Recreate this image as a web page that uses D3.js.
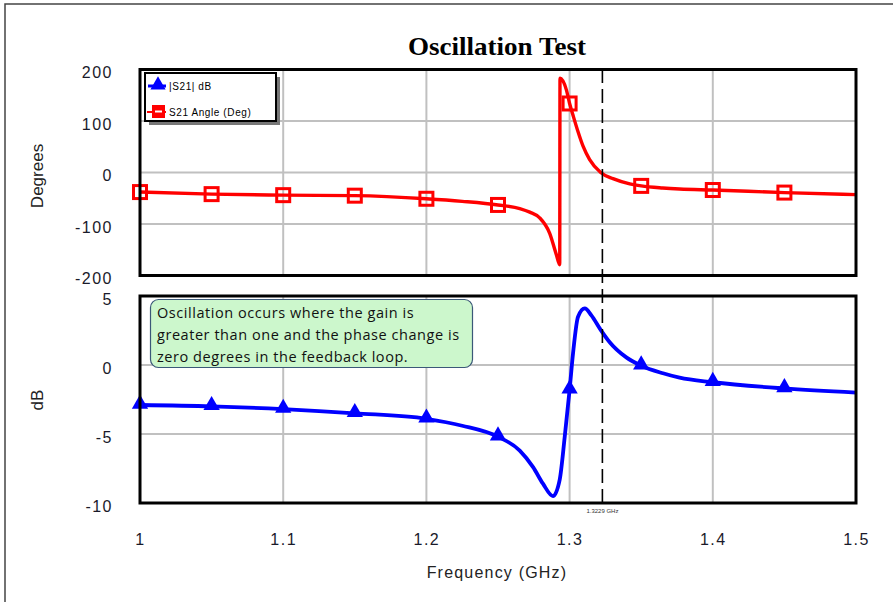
<!DOCTYPE html>
<html>
<head>
<meta charset="utf-8">
<script src="https://cdn.jsdelivr.net/npm/d3@7"></script>
<style>
  html, body { margin: 0; padding: 0; background: #fff; }
  svg { display: block; }
</style>
</head>
<body>
<svg id="chart" width="893" height="602"></svg>
<script>
// ---------------- DATA ----------------
const title = "Oscillation Test";
const xTicks = [1, 1.1, 1.2, 1.3, 1.4, 1.5];
const xTickLabels = ["1", "1.1", "1.2", "1.3", "1.4", "1.5"];
const degTicks = [200, 100, 0, -100, -200];
const dbTicks = [5, 0, -5, -10];
const markerFreqs = [1.00, 1.05, 1.10, 1.15, 1.20, 1.25, 1.30, 1.35, 1.40, 1.45];

const angleFreq = [1.00, 1.05, 1.10, 1.15, 1.20, 1.225, 1.25, 1.2652, 1.2722, 1.2791, 1.2861, 1.2908, 1.2931,
  1.2933, 1.2978, 1.30, 1.3024, 1.3059, 1.3094, 1.3140, 1.3217, 1.3303, 1.3420, 1.35, 1.3650, 1.3768, 1.40, 1.45, 1.50];
const angleDeg = [-38, -42, -44, -45, -51, -56, -63, -70, -77, -88, -118, -160, -179,
  183, 160, 134, 111, 79, 51, 25, 0, -12, -22, -26, -30, -32, -34, -39, -43];

const gainFreq = [1.00, 1.05, 1.10, 1.15, 1.20, 1.225, 1.25, 1.2652, 1.2745, 1.2814, 1.2884, 1.2931, 1.2966,
  1.30, 1.3024, 1.3059, 1.3106, 1.3152, 1.3217, 1.3280, 1.3396, 1.35, 1.3652, 1.3768, 1.40, 1.45, 1.50];
const gainDb = [-2.9, -3.0, -3.2, -3.5, -3.9, -4.4, -5.2, -6.2, -7.4, -8.6, -9.5, -8.3, -5.2,
  -1.8, 0.85, 3.5, 4.1, 3.6, 2.55, 1.65, 0.55, -0.05, -0.6, -0.92, -1.25, -1.7, -2.0];

const markerFreq = 1.3229;
const markerLabel = "1.3229 GHz";
const seriesNames = ["|S21| dB", "S21 Angle (Deg)"];
const noteLines = [
  "Oscillation occurs where the gain is",
  "greater than one and the phase change is",
  "zero degrees in the feedback loop."
];

// ---------------- DRAW ----------------
const svg = d3.select("#chart");
const red = "#ff0000", blue = "#0000ff";
const sans = "Liberation Sans, Arial, sans-serif";

const x = d3.scaleLinear().domain([1, 1.5]).range([140, 856]);
const yDeg = d3.scaleLinear().domain([-200, 200]).range([275.5, 69.5]);
const yDb = d3.scaleLinear().domain([-10, 5]).range([503, 296]);

// outer frame
svg.append("rect").attr("x", 5).attr("y", 4).attr("width", 900).attr("height", 610)
  .attr("fill", "none").attr("stroke", "#444").attr("stroke-width", 1.5);

// title
svg.append("text").attr("x", 497).attr("y", 55).attr("text-anchor", "middle")
  .attr("font-family", "Liberation Serif, Times New Roman, serif").attr("font-weight", "bold")
  .attr("font-size", 25).attr("textLength", 178).attr("lengthAdjust", "spacingAndGlyphs")
  .attr("fill", "#000").text(title);

function panel(y, ticks) {
  const g = svg.append("g");
  const [y0, y1] = y.range();
  g.selectAll(".vg").data(xTicks.slice(1, -1)).join("line")
    .attr("x1", d => x(d)).attr("x2", d => x(d)).attr("y1", y1).attr("y2", y0)
    .attr("stroke", "#c0c0c0").attr("stroke-width", 2);
  g.selectAll(".hg").data(ticks.slice(1, -1)).join("line")
    .attr("x1", x.range()[0]).attr("x2", x.range()[1]).attr("y1", d => y(d)).attr("y2", d => y(d))
    .attr("stroke", "#c0c0c0").attr("stroke-width", 2);
  const ax = d3.axisLeft(y).tickValues(ticks).tickSize(0).tickPadding(27).tickFormat(d => String(d));
  const ga = svg.append("g").attr("transform", `translate(${x.range()[0]},3)`).call(ax);
  ga.select(".domain").remove();
  ga.selectAll("text").attr("font-family", sans)
    .attr("font-size", 16).attr("letter-spacing", 1.5).attr("fill", "#1a1a2a");
  return g;
}
panel(yDeg, degTicks);
panel(yDb, dbTicks);

// x axis labels
const xa = d3.axisBottom(x).tickValues(xTicks).tickSize(0).tickPadding(31)
  .tickFormat((d, i) => xTickLabels[i]);
const gx = svg.append("g").attr("transform", "translate(0,503)").call(xa);
gx.select(".domain").remove();
gx.selectAll("text").attr("font-family", sans)
  .attr("font-size", 16).attr("letter-spacing", 1.5).attr("fill", "#1a1a2a");

// axis titles
svg.append("text").attr("x", 497).attr("y", 578).attr("text-anchor", "middle")
  .attr("font-family", sans).attr("font-size", 16)
  .attr("letter-spacing", 1.2).attr("fill", "#222").text("Frequency (GHz)");
svg.append("text").attr("transform", "translate(43,176) rotate(-90)").attr("text-anchor", "middle")
  .attr("font-family", sans).attr("font-size", 17).attr("fill", "#222").text("Degrees");
svg.append("text").attr("transform", "translate(43,400) rotate(-90)").attr("text-anchor", "middle")
  .attr("font-family", sans).attr("font-size", 17).attr("fill", "#222").text("dB");

// series
const angleData = angleFreq.map((f, i) => ({ f, v: angleDeg[i] }));
const gainData = gainFreq.map((f, i) => ({ f, v: gainDb[i] }));

svg.append("path").datum(angleData)
  .attr("d", d3.line().x(d => x(d.f)).y(d => yDeg(d.v)).curve(d3.curveMonotoneX))
  .attr("fill", "none").attr("stroke", red).attr("stroke-width", 3.4).attr("stroke-linejoin", "round");
svg.append("path").datum(gainData)
  .attr("d", d3.line().x(d => x(d.f)).y(d => yDb(d.v)).curve(d3.curveMonotoneX))
  .attr("fill", "none").attr("stroke", blue).attr("stroke-width", 3.8).attr("stroke-linejoin", "round");

// markers
const isMarker = d => markerFreqs.some(m => Math.abs(m - d.f) < 1e-6);
svg.selectAll(".sq").data(angleData.filter(isMarker)).join("rect")
  .attr("x", d => x(d.f) - 6.5).attr("y", d => yDeg(d.v) - 6.5).attr("width", 13).attr("height", 13)
  .attr("fill", "none").attr("stroke", red).attr("stroke-width", 3);
svg.selectAll(".tri").data(gainData.filter(isMarker)).join("path")
  .attr("transform", d => `translate(${x(d.f)},${yDb(d.v) - 1})`)
  .attr("d", d3.symbol(d3.symbolTriangle, 115))
  .attr("fill", blue);

// dashed marker line
svg.append("line").attr("x1", x(markerFreq)).attr("x2", x(markerFreq)).attr("y1", 69).attr("y2", 503)
  .attr("stroke", "#000").attr("stroke-width", 1.6).attr("stroke-dasharray", "14,6");
svg.append("text").attr("x", x(markerFreq)).attr("y", 513).attr("text-anchor", "middle")
  .attr("font-family", sans).attr("font-size", 6).attr("fill", "#333").text(markerLabel);

// panel borders
[yDeg, yDb].forEach(y => {
  svg.append("rect").attr("x", 140).attr("y", y.range()[1])
    .attr("width", 716).attr("height", y.range()[0] - y.range()[1])
    .attr("fill", "none").attr("stroke", "#000").attr("stroke-width", 3);
});

// legend
const lg = svg.append("g");
lg.append("rect").attr("x", 149).attr("y", 77).attr("width", 131).attr("height", 48).attr("fill", "#777");
lg.append("rect").attr("x", 145).attr("y", 73).attr("width", 131).attr("height", 48)
  .attr("fill", "#fff").attr("stroke", "#000").attr("stroke-width", 2);
lg.append("line").attr("x1", 148).attr("x2", 166).attr("y1", 86).attr("y2", 86).attr("stroke", blue).attr("stroke-width", 3);
lg.append("path").attr("transform", "translate(158,85)").attr("d", d3.symbol(d3.symbolTriangle, 100)).attr("fill", blue);
lg.append("line").attr("x1", 147).attr("x2", 166).attr("y1", 112).attr("y2", 112).attr("stroke", red).attr("stroke-width", 2);
lg.append("rect").attr("x", 152).attr("y", 105).attr("width", 13).attr("height", 13).attr("fill", red);
lg.append("line").attr("x1", 155).attr("x2", 162).attr("y1", 111.5).attr("y2", 111.5).attr("stroke", "#fff").attr("stroke-width", 2);
lg.append("text").attr("x", 169).attr("y", 90).attr("font-family", sans).attr("letter-spacing", 0.6)
  .attr("font-size", 10).attr("fill", "#000").text(seriesNames[0]);
lg.append("text").attr("x", 169).attr("y", 116).attr("font-family", sans).attr("letter-spacing", 0.6)
  .attr("font-size", 10).attr("fill", "#000").text(seriesNames[1]);

// annotation note
svg.append("rect").attr("x", 150.5).attr("y", 299.5).attr("width", 322).attr("height", 68)
  .attr("rx", 8).attr("fill", "#ccf7cc").attr("stroke", "#3b5878").attr("stroke-width", 1.2);
svg.selectAll(".note").data(noteLines).join("text")
  .attr("x", 157).attr("y", (d, i) => 318 + i * 22)
  .attr("font-family", "Open Sans, sans-serif").attr("font-size", 14.5)
  .attr("letter-spacing", 0.55).attr("fill", "#111").text(d => d);
</script>
</body>
</html>
